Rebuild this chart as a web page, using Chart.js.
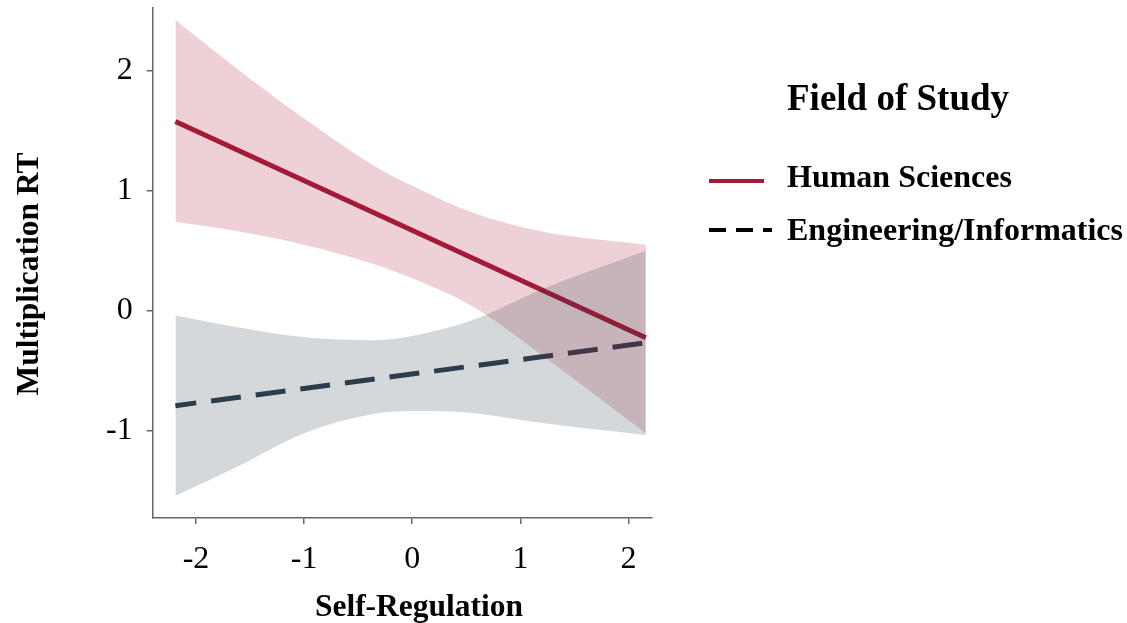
<!DOCTYPE html>
<html lang="en">
<head>
  <meta charset="UTF-8">
  <title>Multiplication RT by Self-Regulation</title>
  <script src="https://cdn.jsdelivr.net/npm/chart.js"></script>
  <style>
    body { margin: 0; background: #fff; }
    #wrap { position: relative; width: 1127px; height: 623px; }
    canvas { position: absolute; left: 0; top: 0; }
    .txt { position: absolute; font-family: "Liberation Serif", "Times New Roman", serif; font-weight: bold; color: #000; line-height: 1; white-space: nowrap; }
    svg { position: absolute; left: 0; top: 0; }
  </style>
</head>
<body>
  <div id="wrap">
    <canvas id="chart" width="1127" height="623"></canvas>
    <svg width="1127" height="623">
      <line x1="709" y1="181" x2="764" y2="181" stroke="rgb(163,26,55)" stroke-width="4"/>
      <line x1="709" y1="230" x2="772" y2="230" stroke="#000" stroke-width="4" stroke-dasharray="17 10"/>
    </svg>
    <!-- axis titles -->
    <div class="txt" style="left:419px; top:590px; font-size:31.5px; transform:translateX(-50%);">Self-Regulation</div>
    <div class="txt" style="left:28px; top:274px; font-size:31.5px; transform:translate(-50%,-50%) rotate(-90deg);">Multiplication RT</div>
    <!-- legend -->
    <div class="txt" style="left:787px; top:79px; font-size:37px;">Field of Study</div>
    <div class="txt" style="left:787px; top:160px; font-size:32px;">Human Sciences</div>
    <div class="txt" style="left:787px; top:213px; font-size:32px;">Engineering/Informatics</div>
  </div>

  <script>
    // fitted lines (endpoints) and confidence bands
    const lineX = [-2.19, 2.16];
    const humanLine = [1.576, -0.224];
    const engLine = [-0.79, -0.267];

    const bandX = [-2.19, -1.6, -1.0, -0.36, 0, 0.55, 1.2, 2.16];
    const humanUpper = [2.42, 2.0, 1.6, 1.21, 1.04, 0.82, 0.66, 0.55];
    const humanLower = [0.74, 0.66, 0.55, 0.39, 0.27, 0.04, -0.37, -1.02];
    const engUpper = [-0.04, -0.14, -0.22, -0.245, -0.21, -0.08, 0.18, 0.50];
    const engLower = [-1.54, -1.29, -1.02, -0.86, -0.835, -0.85, -0.935, -1.035];

    const xTicks = [-2, -1, 0, 1, 2];
    const yTicks = [-1, 0, 1, 2];

    const red = "rgb(163,26,55)";
    const redBand = "rgba(163,26,55,0.2)";
    const slate = "rgb(45,60,75)";
    const slateBand = "rgba(45,60,75,0.2)";
    const axisColor = "#666";
    const serif = "'Liberation Serif', 'Times New Roman', serif";

    const pts = (xs, ys) => xs.map((x, i) => ({ x, y: ys[i] }));

    const band = (data, fill, color) => ({
      data, fill, backgroundColor: color, borderWidth: 0,
      pointRadius: 0, cubicInterpolationMode: "monotone"
    });

    new Chart(document.getElementById("chart").getContext("2d"), {
      type: "line",
      data: {
        datasets: [
          band(pts(bandX, engUpper), "+1", slateBand),
          band(pts(bandX, engLower), false, slateBand),
          band(pts(bandX, humanUpper), "+1", redBand),
          band(pts(bandX, humanLower), false, redBand),
          { data: pts(lineX, humanLine), borderColor: red, borderWidth: 5, pointRadius: 0, fill: false },
          { data: pts(lineX, engLine), borderColor: slate, borderWidth: 5, borderDash: [30, 15], borderDashOffset: 9, pointRadius: 0, fill: false }
        ]
      },
      options: {
        responsive: false,
        animation: false,
        layout: { padding: { left: 0, right: 475, top: 8, bottom: 0 } },
        plugins: { legend: { display: false }, tooltip: { enabled: false } },
        scales: {
          x: {
            type: "linear", min: -2.4, max: 2.217,
            afterBuildTicks: s => { s.ticks = xTicks.map(v => ({ value: v })); },
            afterFit: s => { s.height = 105; s.paddingLeft = 0; s.paddingRight = 0; },
            grid: { drawOnChartArea: false, drawTicks: true, tickLength: 6, color: axisColor, lineWidth: 1.5 },
            border: { display: true, color: axisColor, width: 1.5 },
            ticks: { color: "#000", padding: 16, font: { family: serif, size: 32 }, callback: v => String(v), maxRotation: 0 }
          },
          y: {
            type: "linear", min: -1.725, max: 2.52,
            afterBuildTicks: s => { s.ticks = yTicks.map(v => ({ value: v })); },
            afterFit: s => { s.width = 152.7; s.paddingTop = 0; s.paddingBottom = 0; },
            grid: { drawOnChartArea: false, drawTicks: true, tickLength: 6, color: axisColor, lineWidth: 1.5 },
            border: { display: true, color: axisColor, width: 1.5 },
            ticks: { color: "#000", padding: 14, font: { family: serif, size: 32 }, callback: v => String(v) }
          }
        }
      }
    });
  </script>
</body>
</html>
